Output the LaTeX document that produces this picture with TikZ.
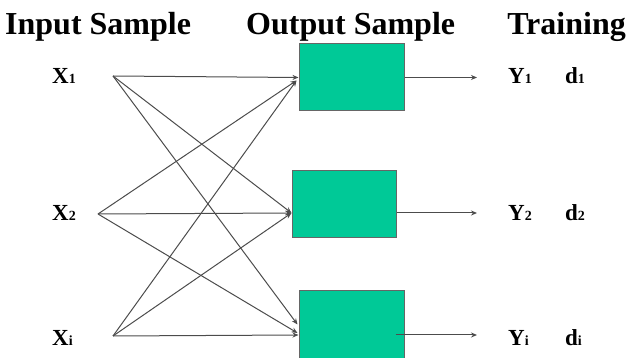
\documentclass[tikz,border=0pt]{standalone}
\usepackage{fontspec}
\setmainfont{Liberation Serif}
\usetikzlibrary{arrows.meta, positioning}

\definecolor{unitgreen}{RGB}{0,201,151}
\newcommand{\sig}[2]{#1{\fontsize{14}{14}\selectfont #2}}

\begin{document}
\begin{tikzpicture}[
  x=1pt, y=-1pt,
  every node/.style = {font=\bfseries\fontsize{23}{23}\selectfont, inner sep=0pt},
  heading/.style = {font=\bfseries\fontsize{32}{32}\selectfont, anchor=base west},
  label/.style = {anchor=base west},
  unit/.style = {
    draw=black!60, fill=unitgreen, line width=1pt,
    minimum width=105pt, minimum height=67pt
  },
  flow/.style = {-{Stealth[length=6pt, width=5pt]}, line width=1pt, draw=black!70}
]
\useasboundingbox (0,0) rectangle (627,358);

\node[heading] (hin) at (5,35) {Input Sample};
\node[heading] (hout) at (246,35) {Output Sample};
\node[heading, anchor=base east] (htrain) at (626,35) {Training};

\node[unit] (b1) at (351.5,77.5) {};
\node[unit, minimum width=104pt] (b2) at (344,204.5) {};
\node[unit] (b3) at (351.5,324.5) {};

\node[label] (lx1) at (52,84) {\sig{X}{1}};
\node[label] (lx2) at (52,221) {\sig{X}{2}};
\node[label] (lxi) at (52,345) {\sig{X}{i}};

\coordinate (x1) at (113,76);
\coordinate (x2) at (98,214);
\coordinate (xi) at (113,336);

% fully connected inputs
\draw[flow] (x1) -- (b1.west);
\draw[flow] (x1) -- ([yshift=-8.5pt]b2.west);
\draw[flow] (x1) -- ([xshift=-1pt]b3.west);
\draw[flow] (x2) -- ([xshift=-2pt, yshift=-3pt]b1.west);
\draw[flow] (x2) -- ([yshift=-8.5pt]b2.west);
\draw[flow] (x2) -- ([xshift=-1pt, yshift=-8.5pt]b3.west);
\draw[flow] (xi) -- ([xshift=-2pt, yshift=-3pt]b1.west);
\draw[flow] (xi) -- ([yshift=-8.5pt]b2.west);
\draw[flow] (xi) -- ([yshift=-10.5pt]b3.west);

\coordinate (o1) at (477,77.5);
\coordinate (o2) at (477,213);
\coordinate (o3) at (477,335);
\draw[flow] (b1.east) -- (o1);
\draw[flow] ([yshift=-8.5pt]b2.east) -- (o2);
\draw[flow] ([xshift=-9pt, yshift=-10.5pt]b3.east) -- (o3);

\node[label] (ly1) at (508,84) {\sig{Y}{1}};
\node[label] (ly2) at (508,221) {\sig{Y}{2}};
\node[label] (lyi) at (508,345) {\sig{Y}{i}};
\node[label] (ld1) at (565,84) {\sig{d}{1}};
\node[label] (ld2) at (565,221) {\sig{d}{2}};
\node[label] (ldi) at (565,345) {\sig{d}{i}};
\end{tikzpicture}
\end{document}
